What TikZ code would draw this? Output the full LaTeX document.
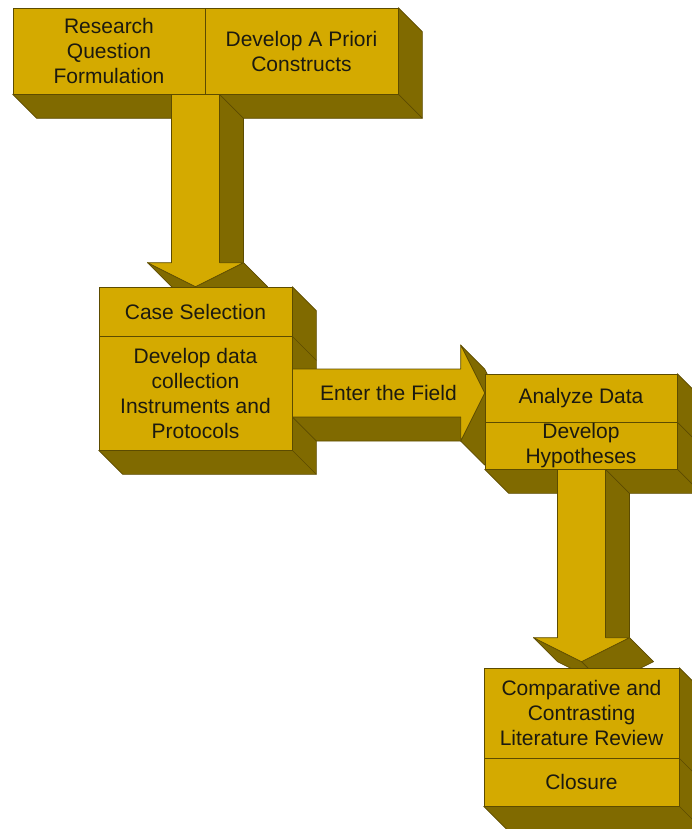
\documentclass[tikz,border=0pt]{standalone}
\usepackage{fontspec}
\setmainfont{Liberation Sans}
\usetikzlibrary{calc}
\definecolor{goldface}{HTML}{D4AA00}
\definecolor{goldside}{HTML}{806A00}
\definecolor{goldline}{HTML}{5C4B00}
\definecolor{inktext}{HTML}{1C1A10}
\pgfdeclarelayer{back}
\pgfdeclarelayer{mid}
\pgfsetlayers{back,mid,main}

\newcommand\solidbox[4]{%
  \filldraw[sideface] (#1) -- ++(24,24) -- ($(#2)+(24,24)$) -- ($(#3)+(24,24)$) -- (#3) -- (#2) -- cycle;
  \draw[sideface] (#2) -- ++(24,24);
  \draw[sideface] (#4) -- ++(24,24);
}
\newcommand\arrowdown[2]{%
  \coordinate (s) at (#1);
  \coordinate (t) at (#2);
  \filldraw[sideface] ($(s)+(24,0)$) -- ($(s)+(48,24)$) -- ($(t)+(48,0)$) -- ($(t)+(24,-24)$) -- cycle;
  \filldraw[sideface] ($(t)+(48,-24)$) -- ($(t)+(72,0)$) -- ($(t)+(24,24)$) -- (t) -- cycle;
  \filldraw[sideface] ($(t)+(-48,-24)$) -- (t) -- ($(t)+(24,24)$) -- ($(t)+(-24,0)$) -- cycle;
  \filldraw[frontface] ($(s)+(-24,0)$) -- ($(t)+(-24,-24)$) -- ($(t)+(-48,-24)$) -- (t)
    -- ($(t)+(48,-24)$) -- ($(t)+(24,-24)$) -- ($(s)+(24,0)$) -- cycle;
}
\newcommand\arrowright[2]{%
  \coordinate (s) at (#1);
  \coordinate (t) at (#2);
  \filldraw[sideface] ($(s)+(0,24)$) -- ($(t)+(-24,24)$) -- ($(t)+(0,48)$) -- ($(s)+(24,48)$) -- cycle;
  \filldraw[sideface] ($(t)+(-24,48)$) -- (t) -- ($(t)+(24,24)$) -- ($(t)+(0,72)$) -- cycle;
  \filldraw[sideface] ($(t)+(-24,-48)$) -- (t) -- ($(t)+(24,24)$) -- ($(t)+(0,-24)$) -- cycle;
  \filldraw[frontface] ($(s)+(0,-24)$) -- ($(t)+(-24,-24)$) -- ($(t)+(-24,-48)$) -- (t)
    -- ($(t)+(-24,48)$) -- ($(t)+(-24,24)$) -- ($(s)+(0,24)$) -- cycle;
}

\begin{document}
\begin{tikzpicture}[x=1pt,y=-1pt]
\tikzstyle{frontface}= [fill=goldface,draw=goldline,line width=0.7pt,line join=round]
\tikzstyle{sideface}= [fill=goldside,draw=goldline,line width=0.7pt,line join=round]
\tikzstyle{stage}= [rectangle,frontface,align=center,inner sep=0pt,text=inktext,
  font=\fontsize{21}{25}\selectfont]

\useasboundingbox (0,0) rectangle (692,829);
\path
	(109,  51)   node[stage,minimum width=192,minimum height=86] (rq) {Research\\Question\\Formulation}
	(301.5,51)   node[stage,minimum width=193,minimum height=86] (ap) {Develop A Priori\\Constructs}
	(195.5,311.5) node[stage,minimum width=193,minimum height=49] (cs) {Case Selection}
	(195.5,393)  node[stage,minimum width=193,minimum height=114] (dc) {Develop data\\collection\\Instruments and\\Protocols}
	(581,  398)  node[stage,minimum width=192,minimum height=48] (ad) {Analyze Data}
	(581,  445.5) node[stage,minimum width=192,minimum height=47] (dh) {Develop\\Hypotheses}
	(581.5,713)  node[stage,minimum width=195,minimum height=90] (cl) {Comparative and\\Contrasting\\Literature Review}
	(581.5,782)  node[stage,minimum width=195,minimum height=48] (cz) {Closure}
;
\begin{pgfonlayer}{back}
\solidbox{ap.north east}{ap.south east}{rq.south west}{rq.south east}
\solidbox{cs.north east}{dc.south east}{dc.south west}{cs.south east}
\solidbox{ad.north east}{dh.south east}{dh.south west}{ad.south east}
\solidbox{cl.north east}{cz.south east}{cz.south west}{cl.south east}
\end{pgfonlayer}
\begin{pgfonlayer}{mid}
\arrowdown{cs.north |- rq.south}{cs.north}
\arrowright{dc.east}{ad.west |- dc.east}
\arrowdown{cl.north |- dh.south}{$(cl.north)+(0,-6)$}
\end{pgfonlayer}
\node[text=inktext,font=\fontsize{21}{25}\selectfont] (ef) at ($(dc.east)!0.5!(ad.west |- dc.east)$) {Enter the Field};
\end{tikzpicture}
\end{document}
